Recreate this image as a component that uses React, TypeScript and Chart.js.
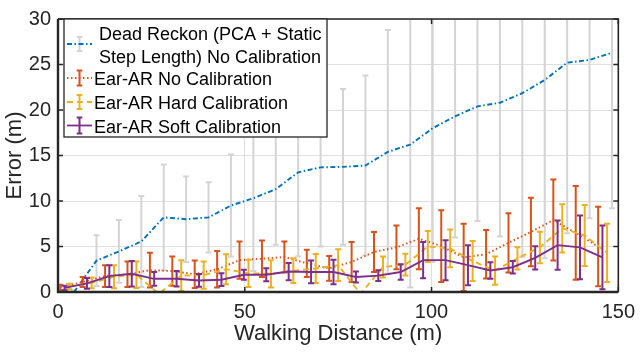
import React, { useEffect, useRef } from 'react';
import { Chart, registerables } from 'chart.js';

Chart.register(...registerables);

// ---------- data ----------
const groupDistance = [0, 6, 12, 18, 24, 30, 36, 42, 48, 54, 60, 66, 72, 78, 84, 90, 96, 102, 108, 114, 120, 126, 132, 138, 144];

const deadReckonMean = [0, 3.45, 4.46, 5.55, 8.2, 8.0, 8.2, 9.5, 10.3, 11.3, 13.15, 13.7, 13.75, 13.9, 15.4, 16.2, 18.0, 19.3, 20.4, 20.8, 21.85, 23.3, 25.2, 25.5, 26.3];
const deadReckonErr = [0.2, 2.8, 3.45, 5.0, 5.8, 4.7, 3.85, 5.6, 8.0, 6.1, 9.25, 8.7, 8.55, 9.9, 13.4, 15.7, 14.7, 13.3, 12.6, 14.7, 18.0, 19.6, 18.75, 17.4, 17.1];

const noCalMean = [0.5, 1.1, 1.75, 1.95, 2.4, 2.3, 1.95, 2.5, 3.5, 3.65, 3.85, 3.15, 2.6, 3.3, 4.4, 4.9, 5.85, 5.05, 3.8, 4.15, 5.4, 6.6, 7.9, 6.5, 5.0];
const noCalErr = [0.3, 0.55, 1.2, 1.4, 1.9, 1.6, 1.5, 2.0, 2.05, 2.0, 1.7, 1.5, 1.35, 2.2, 2.2, 2.4, 3.35, 3.94, 3.7, 2.67, 3.25, 3.76, 4.45, 5.16, 4.36];

const hardCalMean = [0.6, 1.0, 1.67, 1.9, -0.2, 1.8, 1.85, 2.5, 2.05, 2.0, 2.35, 2.58, 2.95, -0.2, 2.75, 3.0, 5.0, 4.8, 3.4, 2.35, 3.7, 4.9, 7.0, 6.2, 4.3];
const hardCalErr = [0.3, 0.6, 1.27, 1.45, 0.15, 1.68, 1.5, 1.66, 1.5, 1.5, 1.35, 1.6, 1.75, 0.15, 1.15, 1.2, 1.7, 2.08, 2.2, 1.54, 1.23, 1.73, 2.65, 3.35, 3.2];

const softCalMean = [0.45, 0.95, 1.74, 2.0, 1.45, 1.45, 1.27, 1.35, 1.9, 1.9, 2.25, 2.2, 2.2, 1.65, 1.8, 2.2, 3.5, 3.5, 2.95, 2.36, 2.72, 3.75, 5.15, 4.9, 3.8];
const softCalErr = [0.25, 0.6, 1.2, 1.4, 0.75, 0.85, 0.7, 0.7, 0.55, 0.72, 0.95, 1.25, 1.35, 0.6, 0.6, 0.85, 2.0, 2.2, 2.2, 0.9, 0.7, 1.27, 2.7, 3.5, 3.5];

// horizontal offsets of each series within a group (m)
const noCalOffset = 0.6;
const softCalOffset = 1.75;
const hardCalOffset = 3.0;
const deadReckonOffset = 4.3;

const xTicks = [0, 50, 100, 150];
const yTicks = [0, 5, 10, 15, 20, 25, 30];

const labels = [
  ['Dead Reckon (PCA + Static', 'Step Length) No Calibration'],
  ['Ear-AR No Calibration'],
  ['Ear-AR Hard Calibration'],
  ['Ear-AR Soft Calibration'],
];

// ---------- styles ----------
const BLUE = '#0072BD';
const ORANGE = '#D95319';
const YELLOW = '#EDB120';
const PURPLE = '#7E2F8E';
const GRAYBAR = '#d4d4d4';
const AXIS = '#262626';
const FONT = '"Liberation Sans", Arial, Helvetica, sans-serif';

const DASH_DOT = [5, 2.5, 1.5, 2.5];
const DOTTED = [1.5, 2.5];
const DASHED = [6, 4];

function pts(mean: number[], offset: number) {
  return groupDistance.map((d, i) => ({ x: d + offset, y: mean[i] }));
}

const errorBarPlugin = {
  id: 'errorBars',
  beforeDatasetDraw(chart: any, args: any) {
    const ds = chart.data.datasets[args.index];
    const errs: number[] | undefined = ds.errors;
    if (!errs) return;
    const { ctx, chartArea, scales } = chart;
    const cap = 3;
    ctx.save();
    ctx.beginPath();
    ctx.rect(chartArea.left, chartArea.top, chartArea.right - chartArea.left, chartArea.bottom - chartArea.top);
    ctx.clip();
    ctx.strokeStyle = ds.barColor;
    ctx.lineWidth = 2;
    ctx.setLineDash([]);
    ds.data.forEach((p: any, i: number) => {
      const e = errs[i];
      const px = scales.x.getPixelForValue(p.x);
      const y1 = scales.y.getPixelForValue(p.y + e);
      const y2 = scales.y.getPixelForValue(p.y - e);
      ctx.beginPath();
      ctx.moveTo(px, y1);
      ctx.lineTo(px, y2);
      ctx.moveTo(px - cap, y1);
      ctx.lineTo(px + cap, y1);
      ctx.moveTo(px - cap, y2);
      ctx.lineTo(px + cap, y2);
      ctx.stroke();
    });
    ctx.restore();
  },
};

const boxPlugin = {
  id: 'axisBox',
  afterDatasetsDraw(chart: any) {
    const { ctx, chartArea: a, scales } = chart;
    ctx.save();
    ctx.strokeStyle = AXIS;
    ctx.setLineDash([]);
    ctx.lineWidth = 1.6;
    ctx.beginPath();
    ctx.moveTo(a.left, a.top);
    ctx.lineTo(a.right, a.top);
    ctx.lineTo(a.right, a.bottom);
    ctx.stroke();
    ctx.lineWidth = 2.4;
    ctx.beginPath();
    ctx.moveTo(a.left, a.top);
    ctx.lineTo(a.left, a.bottom);
    ctx.lineTo(a.right, a.bottom);
    ctx.stroke();
    const tl = 5;
    ctx.lineWidth = 1.5;
    ctx.beginPath();
    xTicks.forEach((v) => {
      const px = scales.x.getPixelForValue(v);
      ctx.moveTo(px, a.bottom);
      ctx.lineTo(px, a.bottom - tl);
      ctx.moveTo(px, a.top);
      ctx.lineTo(px, a.top + tl);
    });
    yTicks.forEach((v) => {
      const py = scales.y.getPixelForValue(v);
      ctx.moveTo(a.left, py);
      ctx.lineTo(a.left + tl, py);
      ctx.moveTo(a.right, py);
      ctx.lineTo(a.right - tl, py);
    });
    ctx.stroke();
    ctx.restore();
  },
};

const legendPlugin = {
  id: 'insideLegend',
  afterDraw(chart: any) {
    const { ctx } = chart;
    const bx = 64, by = 19, bw = 263, bh = 118;
    ctx.save();
    ctx.fillStyle = '#ffffff';
    ctx.fillRect(bx, by, bw, bh);
    ctx.strokeStyle = AXIS;
    ctx.lineWidth = 1.3;
    ctx.setLineDash([]);
    ctx.strokeRect(bx, by, bw, bh);

    const x0 = 67, x1 = 92, xm = 79.5;
    const entries = [
      { color: BLUE, bar: GRAYBAR, dash: DASH_DOT, y: 44, half: 7, textX: 99, baselines: [40, 62.7] },
      { color: ORANGE, bar: ORANGE, dash: DOTTED, y: 78, half: 7.5, textX: 94, baselines: [85] },
      { color: YELLOW, bar: YELLOW, dash: DASHED, y: 102, half: 7, textX: 94, baselines: [109.3] },
      { color: PURPLE, bar: PURPLE, dash: [] as number[], y: 125.5, half: 8, textX: 94, baselines: [132.7] },
    ];
    entries.forEach((e, i) => {
      ctx.setLineDash([]);
      ctx.strokeStyle = e.bar;
      ctx.lineWidth = 2;
      ctx.beginPath();
      ctx.moveTo(xm, e.y - e.half);
      ctx.lineTo(xm, e.y + e.half);
      ctx.moveTo(xm - 2.8, e.y - e.half);
      ctx.lineTo(xm + 2.8, e.y - e.half);
      ctx.moveTo(xm - 2.8, e.y + e.half);
      ctx.lineTo(xm + 2.8, e.y + e.half);
      ctx.stroke();
      ctx.strokeStyle = e.color;
      ctx.lineWidth = 1.8;
      ctx.setLineDash(e.dash);
      ctx.beginPath();
      ctx.moveTo(x0, e.y);
      ctx.lineTo(x1, e.y);
      ctx.stroke();
      ctx.setLineDash([]);
      ctx.fillStyle = '#000000';
      ctx.font = `18px ${FONT}`;
      ctx.textAlign = 'left';
      ctx.textBaseline = 'alphabetic';
      labels[i].forEach((t, j) => ctx.fillText(t, e.textX, e.baselines[j]));
    });
    ctx.restore();
  },
};

export default function App() {
  const canvasRef = useRef<HTMLCanvasElement | null>(null);

  useEffect(() => {
    if (!canvasRef.current) return;
    const lineCommon = { showLine: true, pointRadius: 0, pointHoverRadius: 0, borderWidth: 1.9, fill: false, tension: 0 };
    const chart = new Chart(canvasRef.current, {
      type: 'scatter',
      data: {
        datasets: [
          {
            ...lineCommon,
            label: labels[0].join(' '),
            data: pts(deadReckonMean, deadReckonOffset),
            borderColor: BLUE,
            borderDash: DASH_DOT,
            order: 3,
            errors: deadReckonErr,
            barColor: GRAYBAR,
          } as any,
          {
            ...lineCommon,
            label: labels[1][0],
            data: pts(noCalMean, noCalOffset),
            borderColor: ORANGE,
            borderDash: DOTTED,
            order: 2,
            errors: noCalErr,
            barColor: ORANGE,
          } as any,
          {
            ...lineCommon,
            label: labels[2][0],
            data: pts(hardCalMean, hardCalOffset),
            borderColor: YELLOW,
            borderDash: DASHED,
            order: 1,
            errors: hardCalErr,
            barColor: YELLOW,
          } as any,
          {
            ...lineCommon,
            label: labels[3][0],
            data: pts(softCalMean, softCalOffset),
            borderColor: PURPLE,
            borderDash: [],
            order: 0,
            errors: softCalErr,
            barColor: PURPLE,
          } as any,
        ],
      },
      options: {
        animation: false,
        responsive: false,
        maintainAspectRatio: false,
        layout: { padding: { top: 14, right: 17, left: 0, bottom: 0 } },
        plugins: {
          legend: { display: false },
          tooltip: { enabled: false },
        },
        scales: {
          x: {
            type: 'linear',
            min: 0,
            max: 150,
            afterBuildTicks: (s: any) => { s.ticks = xTicks.map((v) => ({ value: v })); },
            afterFit: (s: any) => { s.height = 62; },
            grid: { color: '#dfdfdf', lineWidth: 1, drawTicks: false },
            border: { display: false },
            ticks: { color: AXIS, font: { size: 20, family: FONT }, padding: 8, maxRotation: 0 },
            title: { display: true, text: 'Walking Distance (m)', color: AXIS, font: { size: 22, family: FONT }, padding: { top: 0, bottom: 7 } },
          },
          y: {
            type: 'linear',
            min: 0,
            max: 30,
            afterBuildTicks: (s: any) => { s.ticks = yTicks.map((v) => ({ value: v })); },
            afterFit: (s: any) => { s.width = 58; },
            grid: { color: '#dfdfdf', lineWidth: 1, drawTicks: false },
            border: { display: false },
            ticks: { color: AXIS, font: { size: 20, family: FONT }, padding: 7 },
            title: { display: true, text: 'Error (m)', color: AXIS, font: { size: 22, family: FONT }, padding: { top: 2, bottom: 0 } },
          },
        },
      },
      plugins: [errorBarPlugin, boxPlugin, legendPlugin],
    } as any);
    return () => chart.destroy();
  }, []);

  return (
    <div style={{ position: 'fixed', left: 0, top: 0, width: 643, height: 354, background: '#ffffff' }}>
      <canvas ref={canvasRef} width={643} height={354} style={{ width: 643, height: 354, display: 'block' }} />
    </div>
  );
}
